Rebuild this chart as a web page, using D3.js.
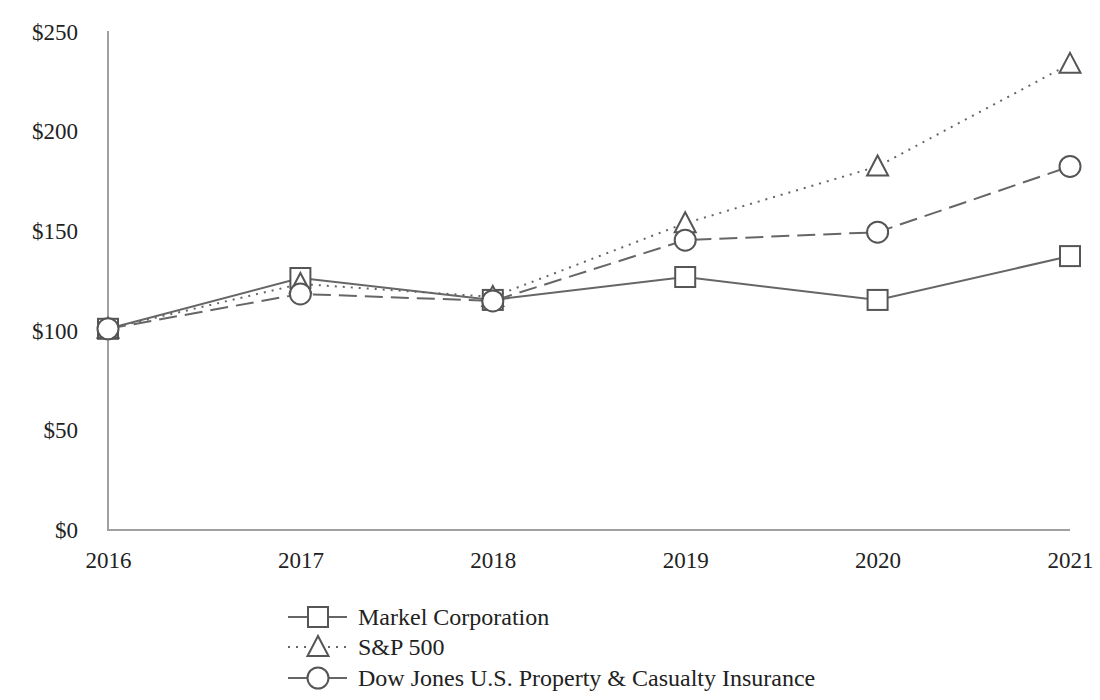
<!DOCTYPE html>
<html><head><meta charset="utf-8">
<script src="https://cdn.jsdelivr.net/npm/d3@7"></script>
<style>
html,body{margin:0;padding:0;background:#fff;}
text{font-family:"Liberation Serif","Times New Roman",serif;fill:#222;}
</style></head>
<body><svg id="c" width="1100" height="700"></svg>
<script>
const years = ["2016","2017","2018","2019","2020","2021"];
const markel = [101, 126.5, 115.5, 127, 115.5, 137.5];
const sp500 = [101, 123.5, 117, 154, 182.5, 234];
const djins = [101, 118.5, 115, 145.5, 149.5, 182.5];
const yTicks = [0, 50, 100, 150, 200, 250];
const seriesNames = ["Markel Corporation", "S&P 500", "Dow Jones U.S. Property & Casualty Insurance"];

const svg = d3.select("#c");
const x = d3.scalePoint().domain(years).range([108, 1070]);
const y = d3.scaleLinear().domain([0, 250]).range([530, 32]);
const lineCol = "#666", markCol = "#555", axisCol = "#a0a0a0";

const yAxis = svg.append("g").attr("transform", "translate(108,0)")
  .call(d3.axisLeft(y).tickValues(yTicks).tickSize(0).tickPadding(30).tickFormat(d => "$" + d));
yAxis.select(".domain").attr("stroke", axisCol).attr("stroke-width", 2).attr("d", "M0,31V530");
yAxis.selectAll("text").attr("font-size", 23).attr("fill", "#222").attr("font-family", "Liberation Serif");

const xAxis = svg.append("g").attr("transform", "translate(0,530)")
  .call(d3.axisBottom(x).tickSize(0).tickPadding(22));
xAxis.select(".domain").attr("stroke", axisCol).attr("stroke-width", 2).attr("d", "M107,0H1070");
xAxis.selectAll("text").attr("font-size", 23).attr("fill", "#222").attr("font-family", "Liberation Serif");

const series = [
  {name: seriesNames[0], vals: markel, dash: null, shape: "square"},
  {name: seriesNames[1], vals: sp500, dash: "2,6", shape: "triangle"},
  {name: seriesNames[2], vals: djins, dash: "18,8", shape: "circle"}
];

function drawMarker(g, shape, cx, cy) {
  if (shape === "square") {
    g.append("rect").attr("x", cx - 10).attr("y", cy - 10).attr("width", 20).attr("height", 20)
      .attr("fill", "#fff").attr("stroke", markCol).attr("stroke-width", 2);
  } else if (shape === "triangle") {
    g.append("path").attr("d", `M${cx},${cy - 11}L${cx + 10.5},${cy + 9}L${cx - 10.5},${cy + 9}Z`)
      .attr("fill", "#fff").attr("stroke", markCol).attr("stroke-width", 2);
  } else {
    g.append("circle").attr("cx", cx).attr("cy", cy).attr("r", 10.5)
      .attr("fill", "#fff").attr("stroke", markCol).attr("stroke-width", 2);
  }
}

const line = d3.line().x((d, i) => x(years[i])).y(d => y(d));
series.forEach(s => {
  svg.append("path").datum(s.vals).attr("d", line).attr("fill", "none")
    .attr("stroke", lineCol).attr("stroke-width", 2).attr("stroke-dasharray", s.dash);
});
series.forEach(s => {
  const g = svg.append("g");
  s.vals.forEach((v, i) => drawMarker(g, s.shape, x(years[i]), y(v)));
});

// legend
const legY = [617, 647, 678];
series.forEach((s, i) => {
  const g = svg.append("g");
  const ld = s.shape === "circle" ? null : s.dash;
  [[288, 308], [328, 347]].forEach(([a, b]) => {
    g.append("line").attr("x1", a).attr("x2", b).attr("y1", legY[i]).attr("y2", legY[i])
      .attr("stroke", lineCol).attr("stroke-width", 2).attr("stroke-dasharray", ld);
  });
  drawMarker(g, s.shape, 318, legY[i]);
  g.append("text").attr("x", 358).attr("y", legY[i]).attr("dy", "0.35em")
    .attr("font-size", 24).text(s.name);
});
</script></body></html>
